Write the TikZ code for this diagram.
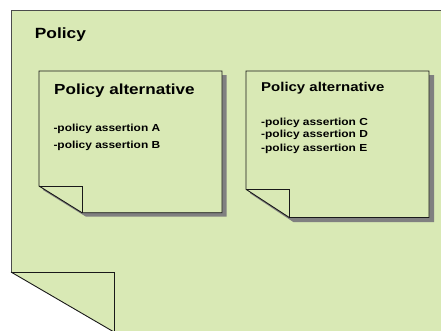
\documentclass[tikz,border=0pt]{standalone}
\usepackage{fontspec}
\setmainfont{Liberation Sans}[FakeStretch=1.17]
\definecolor{notegreen}{RGB}{217,233,181}
\definecolor{shadowgray}{RGB}{128,128,128}
\begin{document}
\begin{tikzpicture}[x=1pt,y=-1pt,
  notefill/.style={fill=notegreen},
  noteline/.style={draw=black!90,line width=0.9pt,line join=miter},
  outerline/.style={draw=black!70,line width=1pt,line join=miter},
  shadowfill/.style={fill=shadowgray},
  txt/.style={anchor=base west,inner sep=0pt,font=\bfseries}]
\useasboundingbox (0,0) rectangle (441,330);
% outer policy sheet
\fill[notegreen] (11,10) -- (445,10) -- (445,336) -- (114,336) -- (114,332) -- (11,272) -- cycle;
\draw[outerline] (445,10) -- (11,10) -- (11,272);
\draw[noteline] (11,272) -- (114,332);
\draw[noteline] (11,272) -- (114,272) -- (114,336);
\node[txt,font=\bfseries\fontsize{14.8}{16}\selectfont] (policy) at (34.7,38.3) {Policy};
% box 1
\fill[shadowgray] (43,75) -- (226.5,75) -- (226.5,216.7) -- (86,216.7) -- (43,190) -- cycle;
\fill[notegreen] (39,71) -- (222,71) -- (222,212.7) -- (82,212.7) -- (39,186) -- cycle;
\draw[noteline] (39,71) -- (222,71) -- (222,212.7) -- (82,212.7) -- (39,186) -- cycle;
\draw[noteline] (39,186) -- (82,186) -- (82,212.7);
\node[txt,font=\bfseries\fontsize{14.6}{16}\selectfont] (t1) at (54,94) {Policy alternative};
\node[txt,font=\bfseries\fontsize{10.2}{12}\selectfont] (a) at (53.3,131.5) {-policy assertion A};
\node[txt,font=\bfseries\fontsize{10.2}{12}\selectfont] (b) at (53.3,148.3) {-policy assertion B};
% box 2
\fill[shadowgray] (250,75) -- (434,75) -- (434,222) -- (293.3,222) -- (250,193.3) -- cycle;
\fill[notegreen] (246,71) -- (429,71) -- (429,217.5) -- (289.3,217.5) -- (246,189.3) -- cycle;
\draw[noteline] (246,71) -- (429,71) -- (429,217.5) -- (289.3,217.5) -- (246,189.3) -- cycle;
\draw[noteline] (246,189.3) -- (289.3,189.3) -- (289.3,217.5);
\node[txt,font=\bfseries\fontsize{12.8}{14}\selectfont] (t2) at (261,91.7) {Policy alternative};
\node[txt,font=\bfseries\fontsize{10.2}{12}\selectfont] (c) at (261,125.6) {-policy assertion C};
\node[txt,font=\bfseries\fontsize{10.2}{12}\selectfont] (d) at (261,137.2) {-policy assertion D};
\node[txt,font=\bfseries\fontsize{10.2}{12}\selectfont] (e) at (261,151.5) {-policy assertion E};
\end{tikzpicture}
\end{document}
